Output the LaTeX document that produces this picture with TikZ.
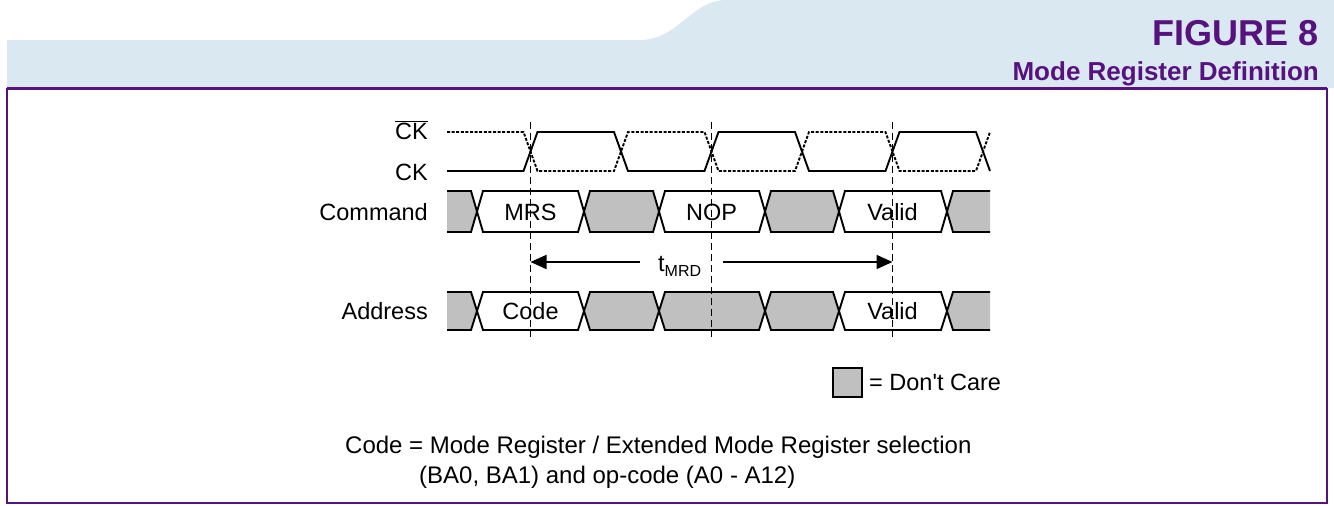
\documentclass[tikz,border=0pt]{standalone}
\usepackage{fontspec}
\setmainfont{Liberation Sans}
\usetikzlibrary{arrows.meta}
\definecolor{hdrblue}{RGB}{217,232,241}
\definecolor{figpurple}{RGB}{88,18,128}
\definecolor{dcgrey}{RGB}{192,192,192}
\begin{document}
\begin{tikzpicture}[x=1pt,y=-1pt,
  lbl/.style={inner sep=0pt, font=\fontsize{23.5}{28}\selectfont},
  hdr/.style={inner sep=0pt, text=figpurple, anchor=base east},
  wave/.style={line width=1.9pt, line join=miter},
  dotwave/.style={wave, dash pattern=on 3pt off 1.6pt},
  bus/.style={line width=1.9pt, line join=miter},
  marker/.style={line width=1.4pt, dash pattern=on 7pt off 4pt},
  timearrow/.style={line width=1.8pt, -{Triangle[length=16pt,width=14pt]}}]
\useasboundingbox (0,0) rectangle (1334,506);
% header band
\fill[hdrblue] (7,88) -- (7,40) -- (640,40) .. controls (678,40) and (692,0) .. (726,0) -- (1334,0) -- (1334,88) -- cycle;
\node[hdr, font=\bfseries\fontsize{36}{40}\selectfont] (fig) at (1319,45.5) {FIGURE 8};
\node[hdr, font=\bfseries\fontsize{26}{30}\selectfont] (title) at (1319,80.5) {Mode Register Definition};
\draw[figpurple, line width=1.5pt] (7,88) -- (7,503) -- (1327,503) -- (1327,88);
\draw[figpurple, line width=3pt] (7,88) -- (1327,88);
% signal labels
\node[lbl, anchor=base east] (lckb) at (428,139.5) {$\overline{\mbox{CK}}$};
\node[lbl, anchor=base east] (lck) at (428,180.5) {CK};
\node[lbl, anchor=base east] (lcmd) at (428,220.5) {Command};
\node[lbl, anchor=base east] (ladr) at (428,319.5) {Address};
% clocks
\draw[wave] (447,171) -- (523.5,171) -- (537.5,132) -- (614,132) -- (628,171) -- (704.5,171) -- (718.5,132) -- (795,132) -- (809,171) -- (885.5,171) -- (899.5,132) -- (976,132) -- (990,171);
\draw[dotwave] (447,132) -- (523.5,132) -- (537.5,171) -- (614,171) -- (628,132) -- (704.5,132) -- (718.5,171) -- (795,171) -- (809,132) -- (885.5,132) -- (899.5,171) -- (976,171) -- (990,132);
% command bus
\fill[dcgrey] (447,191) -- (471,191) -- (477,211.5) -- (471,232) -- (447,232) -- cycle;
\draw[bus] (447,191) -- (471,191) -- (477,211.5) -- (471,232) -- (447,232);
\foreach \a/\b/\c in {477/584/white, 584/659/dcgrey, 659/765/white, 765/839/dcgrey, 839/947/white}
  \filldraw[bus, fill=\c] (\a,211.5) -- ({\a+6},191) -- ({\b-6},191) -- (\b,211.5) -- ({\b-6},232) -- ({\a+6},232) -- cycle;
\fill[dcgrey] (990,191) -- (953,191) -- (947,211.5) -- (953,232) -- (990,232) -- cycle;
\draw[bus] (990,191) -- (953,191) -- (947,211.5) -- (953,232) -- (990,232);
% address bus
\fill[dcgrey] (447,292) -- (471,292) -- (477,311) -- (471,330) -- (447,330) -- cycle;
\draw[bus] (447,292) -- (471,292) -- (477,311) -- (471,330) -- (447,330);
\foreach \a/\b/\c in {477/584/white, 584/659/dcgrey, 659/765/dcgrey, 765/839/dcgrey, 839/947/white}
  \filldraw[bus, fill=\c] (\a,311) -- ({\a+6},292) -- ({\b-6},292) -- (\b,311) -- ({\b-6},330) -- ({\a+6},330) -- cycle;
\fill[dcgrey] (990,292) -- (953,292) -- (947,311) -- (953,330) -- (990,330) -- cycle;
\draw[bus] (990,292) -- (953,292) -- (947,311) -- (953,330) -- (990,330);
% bus values
\node[lbl, anchor=base] (mrs) at (530.5,220) {MRS};
\node[lbl, anchor=base] (nop) at (711.5,220) {NOP};
\node[lbl, anchor=base] (vcmd) at (892.5,220) {Valid};
\node[lbl, anchor=base] (code) at (530.5,319.5) {Code};
\node[lbl, anchor=base] (vadr) at (892.5,319.5) {Valid};
% clock edge markers
\coordinate (matop) at (530.5,122);
\coordinate (mabot) at (530.5,337);
\coordinate (mbtop) at (711.5,122);
\coordinate (mbbot) at (711.5,337);
\coordinate (mctop) at (892.5,122);
\coordinate (mcbot) at (892.5,337);
\draw[marker] (matop) -- (mabot);
\draw[marker] (mbtop) -- (mbbot);
\draw[marker] (mctop) -- (mcbot);
% tMRD
\node[lbl, anchor=base west] (tmrd) at (658,271.5) {t{\fontsize{16}{16}\selectfont\raisebox{-5pt}{MRD}}};
\coordinate (tl) at (640,262);
\coordinate (tr) at (723,262);
\coordinate (tlend) at (530.5,262);
\coordinate (trend) at (892.5,262);
\draw[timearrow] (tl) -- (tlend);
\draw[timearrow] (tr) -- (trend);
% legend
\node[draw, fill=dcgrey, line width=1.9pt, minimum size=29.5pt, inner sep=0pt] (dc) at (847.5,382.5) {};
\node[lbl, anchor=west] (dctext) at (869,382) {= Don\textquotesingle t Care};
% note
\node[lbl, anchor=base west, font=\fontsize{24}{28}\selectfont] (note1) at (345,453) {Code = Mode Register / Extended Mode Register selection};
\node[lbl, anchor=base west, font=\fontsize{24}{28}\selectfont] (note2) at (419,483) {(BA0, BA1) and op-code (A0 - A12)};
\end{tikzpicture}
\end{document}
